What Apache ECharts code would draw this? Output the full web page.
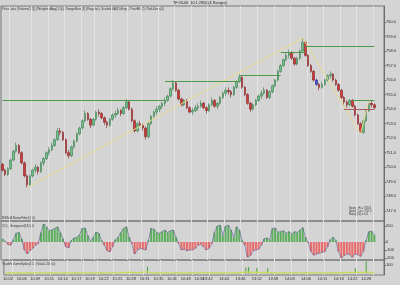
<!DOCTYPE html>
<html><head><meta charset="utf-8">
<script src="https://cdn.jsdelivr.net/npm/echarts@6/dist/echarts.min.js"></script>
<style>html,body{margin:0;padding:0;background:#d4d4d4}#c{width:400px;height:285px}</style>
</head><body><div id="c"></div>
<script>
// [open, close, low, high] per range bar
const candles = [
[750.2,749.8,749.7,750.3],[749.8,749.5,749.4,749.9],[749.5,749.9,749.4,750.0],[749.9,750.5,749.8,750.6],[750.5,751.1,750.4,751.2],
[751.1,751.5,751.0,751.7],[751.5,751.0,750.9,751.6],[751.0,750.3,750.2,751.1],[750.3,749.4,749.3,750.4],[749.4,748.8,748.6,749.5],
[748.8,749.4,748.7,749.5],[749.4,749.8,749.3,749.9],[749.8,750.0,749.6,750.2],[750.0,749.7,749.5,750.1],[749.7,750.3,749.6,750.4],
[750.3,750.6,750.1,750.7],[750.6,751.0,750.5,751.1],[751.0,751.2,750.8,751.4],[751.2,751.5,751.1,751.7],[751.5,751.9,751.4,752.0],
[751.9,752.5,751.8,752.7],[752.5,752.4,752.2,752.7],[752.4,751.9,751.8,752.5],[751.9,751.0,750.9,752.0],[751.0,750.8,750.6,751.2],
[750.8,751.4,750.7,751.5],[751.4,751.8,751.3,751.9],[751.8,752.3,751.7,752.4],[752.3,752.7,752.2,752.8],[752.7,753.2,752.6,753.3],
[753.2,753.7,753.1,753.9],[753.7,753.3,753.2,753.8],[753.3,752.9,752.7,753.4],[752.9,753.3,752.8,753.4],[753.3,753.8,753.2,753.9],
[753.8,753.7,753.5,754.0],[753.7,753.4,753.3,753.8],[753.4,753.1,752.9,753.5],[753.1,752.9,752.7,753.2],[752.9,753.3,752.8,753.4],
[753.3,753.6,753.2,753.7],[753.6,753.7,753.4,753.9],[753.7,753.9,753.6,754.1],[753.9,753.7,753.5,754.0],[753.7,754.1,753.6,754.2],
[754.1,754.5,754.0,754.7],[754.5,754.0,753.9,754.6],[754.0,753.2,753.1,754.1],[753.2,752.5,752.4,753.3],[752.5,753.0,752.4,753.1],
[753.0,752.9,752.8,753.2],[752.9,752.7,752.5,753.0],[752.7,752.1,751.9,752.8],[752.1,753.0,752.0,753.1],[753.0,753.5,752.9,753.6],
[753.5,753.8,753.4,753.9],[753.8,754.0,753.6,754.2],[754.0,754.2,753.8,754.3],[754.2,754.4,754.0,754.5],[754.4,754.6,754.2,754.8],
[754.6,754.9,754.5,755.0],[754.9,755.4,754.8,755.5],[755.4,755.8,755.3,756.0],[755.8,755.3,755.2,755.9],[755.3,754.7,754.6,755.4],
[754.7,754.3,754.2,754.8],[754.3,754.6,754.2,754.7],[754.6,754.1,754.0,754.7],[754.1,753.8,753.7,754.2],[753.8,753.9,753.6,754.1],
[753.9,754.1,753.8,754.3],[754.1,754.2,753.9,754.4],[754.2,754.4,754.1,754.6],[754.4,754.1,754.0,754.5],[754.1,753.9,753.7,754.2],
[753.9,754.3,753.8,754.4],[754.3,754.6,754.2,754.8],[754.6,754.2,754.1,754.7],[754.2,754.4,754.0,754.5],[754.4,754.8,754.3,754.9],
[754.8,755.1,754.7,755.2],[755.1,755.3,754.9,755.5],[755.3,755.2,755.0,755.5],[755.2,755.0,754.8,755.3],[755.0,755.5,754.9,755.6],
[755.5,755.9,755.4,756.0],[755.9,756.2,755.8,756.4],[756.2,755.5,755.4,756.3],[755.5,755.0,754.9,755.6],[755.0,754.4,754.3,755.1],
[754.4,754.0,753.8,754.5],[754.0,754.3,753.9,754.4],[754.3,754.6,754.2,754.7],[754.6,754.9,754.5,755.0],[754.9,755.1,754.7,755.3],
[755.1,755.3,755.0,755.5],[755.3,754.8,754.7,755.4],[754.8,755.2,754.7,755.3],[755.2,755.6,755.1,755.7],[755.6,756.0,755.5,756.1],
[756.0,756.6,755.9,756.7],[756.6,757.0,756.5,757.1],[757.0,757.4,756.9,757.5],[757.4,757.7,757.3,757.9],[757.7,757.9,757.5,758.1],
[757.9,757.5,757.4,758.0],[757.5,757.1,757.0,757.6],[757.1,757.5,757.0,757.6],[757.5,758.0,757.4,758.1],[758.0,758.6,757.9,758.9],
[758.6,757.7,757.6,758.7],[757.7,757.0,756.9,757.8],[757.0,756.6,756.5,757.1],[756.6,756.0,755.9,756.7],[756.0,755.7,755.6,756.1],
[755.7,755.5,755.3,755.8],[755.5,755.7,755.4,755.9],[755.7,756.0,755.6,756.1],[756.0,756.3,755.9,756.4],[756.3,756.4,756.1,756.6],
[756.4,756.0,755.9,756.5],[756.0,755.7,755.6,756.1],[755.7,755.3,755.2,755.8],[755.3,754.8,754.7,755.4],[754.8,754.5,754.3,754.9],
[754.5,754.3,754.1,754.6],[754.3,754.6,754.2,754.7],[754.6,754.2,754.1,754.7],[754.2,753.6,753.5,754.3],[753.6,753.0,752.9,753.7],
[753.0,752.4,752.3,753.1],[752.4,753.2,752.3,753.3],[753.2,753.9,753.1,754.0],[753.9,754.4,753.8,754.6],[754.4,754.3,754.1,754.6],
[754.3,754.1,754.0,754.4]
];
const highlightBar = 114;
const oscValues = [
40,10,-30,-40,30,110,120,40,-100,-150,
-110,-80,-40,-20,120,225,190,140,150,170,
190,120,40,-60,-75,20,50,60,90,170,
175,80,10,60,125,110,20,-40,-110,-125,
-60,30,60,120,170,190,60,-20,-150,-100,
-80,-90,-100,20,170,160,120,110,130,150,
120,140,150,60,-20,-100,-90,-110,-100,-100,
-80,-40,-30,-60,-100,-80,-20,120,200,210,
80,200,210,150,60,190,150,20,-40,-190,
-170,-110,-100,-90,-40,40,50,30,170,175,
120,130,140,110,130,100,130,120,150,180,
60,-10,-120,-165,-150,-140,-130,-120,-60,30,
60,20,-120,-200,-170,-150,-160,-190,-150,-160,
-180,-120,20,130,135,90
];
const volLine = [
8,8,9,8,8,9,8,8,8,9, 8,8,8,9,8,8,8,9,8,8, 8,8,9,8,8,8,9,8,8,8, 9,8,8,8,8,9,8,8,8,9,
8,10,14,12,10,14,16,12,10,12, 14,18,20,14,10,9,8,8,8,9, 8,8,8,9,8,8,8,9,8,8,
10,14,12,10,9,8,8,9,8,8, 9,8,8,8,9,10,12,14,18,16, 12,12,16,12,10,12,14,10,9,8,
8,8,9,8,8,8,9,8,8,8, 9,8,8,8,8,9,8,8,8,9, 8,8,9,10,12,10,12,14,16,14, 12,14,18,14,12,10
];
const volSpikes = [[52,80],[88,70],[89,76],[92,65],[96,65],[128,65],[132,140]];
const zigzag = [[9,748.6],[109,758.9],[130,752.3],[133,754.6]];
const levelLines = [[0,59,754.6],[59,86,755.9],[86,101,756.3],[101,110,757.9],[110,135,758.3]];
const boxLines = [[127,135,754.6,'#4a9a4a'],[124,135,754.0,'#a85a5a']];
const priceTicks = [747,748,749,750,751,752,753,754,755,756,757,758,759,760];
const oscTicks = [-200,-100,0,200];
const volTicks = [100];
const timeIdx = [1,6,11,16,21,26,31,36,41,46,51,56,61,66,71,74,80,86,92,98,104,110,116,122,127,132];
const timeLabels = ["10:02","10:06","10:09","10:11","10:14","10:17","10:19","10:22","10:25","10:28","10:31","10:35","10:41","10:48","10:56","13:42","13:44","13:46","13:52","13:58","14:03","14:06","14:11","14:16","14:22","14:28"];
const gridIdx = [3,11,17,23,29,34,40,46,51,57,63,69,75,81,87,93,99,105,111,117,123,129,135];
const priceBoxes = [[758.3,'#2f8a2f','#fff'],[754.4,'#f0a030','#111'],[754.0,'#111','#fff']];
const oscBox = 64.3, volBox = 18;
const nCats = 139;

const cats = Array.from({length:nCats},(_,i)=>String(i));
const FONT = 'Liberation Sans';
const txt = '#2a2a2a';
const gridLine = {show:true, interval:(i)=>gridIdx.includes(i), lineStyle:{color:'#e3e3e3', width:1}};
function xAx(gi, labels){
  return {type:'category', gridIndex:gi, data:cats, boundaryGap:true,
    axisLine:{show:false}, axisTick:{show:false},
    axisLabel:{show:labels, fontSize:4, color:txt, fontFamily:FONT, margin:1.5,
      interval:(i)=>timeIdx.includes(i), formatter:(v,i)=>{const k=timeIdx.indexOf(i);return k<0?'':timeLabels[k];}},
    splitLine:gridLine};
}
function yAx(gi,min,max,ticks,fmt){
  return {type:'value', gridIndex:gi, position:'right', min:min, max:max,
    axisLine:{show:true, lineStyle:{color:'#6e6e6e', width:1}},
    axisTick:{show:true, length:2, customValues:ticks, lineStyle:{color:'#6e6e6e'}},
    axisLabel:{show:true, customValues:ticks, fontSize:4, color:txt, fontFamily:FONT, margin:2, formatter:fmt},
    splitLine:{show:false}};
}
function boxLabel(v,bg,fg,text){
  return {yAxis:v, lineStyle:{opacity:0, width:0},
    label:{show:true, position:'end', distance:1, formatter:text, fontSize:4, fontFamily:FONT,
      color:fg, backgroundColor:bg, padding:[1,1.5,0.5,1.5]}};
}
const candleData = candles.map((d,i)=> i===highlightBar ? {value:d, itemStyle:{color:'#4a4ad0', color0:'#4a4ad0', borderColor:'#2a2a90', borderColor0:'#2a2a90'}} : d);
const levelData = levelLines.map(([a,b,v])=>[{coord:[a,v]},{coord:[b,v]}])
  .concat(boxLines.map(([a,b,v,c])=>[{coord:[a,v], lineStyle:{color:c}},{coord:[b,v]}]));

const chart = echarts.init(document.getElementById('c'), null, {renderer:'canvas'});
chart.setOption({
  animation:false,
  backgroundColor:'#d4d4d4',
  grid:[
    {left:1, right:16, top:6, height:215, show:true, borderColor:'#777', borderWidth:1, backgroundColor:'transparent'},
    {left:1, right:16, top:221, height:39, show:true, borderColor:'#777', borderWidth:1, backgroundColor:'transparent'},
    {left:1, right:16, top:260, height:15, show:true, borderColor:'#777', borderWidth:1, backgroundColor:'transparent'}
  ],
  xAxis:[xAx(0,false), xAx(1,false), xAx(2,true)],
  yAxis:[
    yAx(0,746.3,761.1,priceTicks,(v)=>v.toFixed(1)),
    yAx(1,-225,262.5,oscTicks,(v)=>String(v)),
    yAx(2,-17.6,158.8,volTicks,(v)=>String(v))
  ],
  graphic:[
    {type:'text', x:200, y:3, style:{text:'TF 03-06  10:1 2850 (4 Ranges)', fontSize:3.8, fontFamily:FONT, fill:'#222', textAlign:'center', textVerticalAlign:'middle', align:'center', verticalAlign:'middle'}},
    {type:'text', x:2, y:9.5, style:{text:'PriceData (Volume(20)) (WeightedAvg(1.0)), RangeBars(4) (Regular), ScaledMA(10,Exp), PivotHL(2), RiskZone(4)', fontSize:3.2, fontFamily:FONT, fill:'#333', textVerticalAlign:'middle', verticalAlign:'middle'}},
    {type:'text', x:2, y:218.5, style:{text:'RSIMA NoiseFilter(1,4)', fontSize:3.2, fontFamily:FONT, fill:'#333', textVerticalAlign:'middle', verticalAlign:'middle'}},
    {type:'text', x:2, y:226, style:{text:'CCI_Histogram(14) (0)', fontSize:3.2, fontFamily:FONT, fill:'#333', textVerticalAlign:'middle', verticalAlign:'middle'}},
    {type:'text', x:2, y:264.5, style:{text:'TradeVolumeSpike(1.5) (Vol=0.200,0)', fontSize:3.2, fontFamily:FONT, fill:'#333', textVerticalAlign:'middle', verticalAlign:'middle'}},
    {type:'text', x:349, y:208.5, style:{text:'Swing_Hi = 758.6', fontSize:2.8, fontFamily:FONT, fill:'#333', textVerticalAlign:'middle', verticalAlign:'middle'}},
    {type:'text', x:349, y:211.5, style:{text:'Swing_Lo = 752.3', fontSize:2.8, fontFamily:FONT, fill:'#333', textVerticalAlign:'middle', verticalAlign:'middle'}},
    {type:'text', x:349, y:214.5, style:{text:'Range(4) = 0.4', fontSize:2.8, fontFamily:FONT, fill:'#333', textVerticalAlign:'middle', verticalAlign:'middle'}}
  ],
  series:[
    {type:'candlestick', xAxisIndex:0, yAxisIndex:0, data:candleData, barWidth:2,
      itemStyle:{color:'#70c08e', color0:'#d23a3a', borderColor:'#3a7a4e', borderColor0:'#7e2222', borderWidth:0.6},
      markLine:{silent:true, symbol:['none','none'], animation:false, label:{show:false},
        lineStyle:{color:'#4a9a4a', width:1, type:'solid'}, data:levelData}},
    {type:'line', xAxisIndex:0, yAxisIndex:0, data:zigzag, symbol:'none', silent:true,
      lineStyle:{color:'#eadc8c', width:1},
      markLine:{silent:true, symbol:['none','none'], animation:false,
        data:priceBoxes.map(([v,bg,fg])=>boxLabel(v,bg,fg,v.toFixed(1)))}},
    {type:'bar', xAxisIndex:1, yAxisIndex:1, data:oscValues, barCategoryGap:'25%', silent:true,
      itemStyle:{color:(p)=>p.value>=0?'#5fae5f':'#e86c6c'}},
    {type:'line', xAxisIndex:1, yAxisIndex:1, data:oscValues, symbol:'none', silent:true,
      lineStyle:{color:'#5c5c98', width:0.6},
      markLine:{silent:true, symbol:['none','none'], animation:false,
        data:[boxLabel(oscBox,'#d02222','#fff',oscBox.toFixed(1))]}},
    {type:'line', xAxisIndex:2, yAxisIndex:2, data:volLine, symbol:'none', silent:true,
      lineStyle:{color:'#c6dc58', width:1.3},
      markLine:{silent:true, symbol:['none','none'], animation:false,
        data:[boxLabel(volBox,'#3f9f3f','#fff','0')]}},
    {type:'bar', xAxisIndex:2, yAxisIndex:2, data:volSpikes, barWidth:1, silent:true,
      itemStyle:{color:'#3f9f3f'}}
  ]
});
</script></body></html>
